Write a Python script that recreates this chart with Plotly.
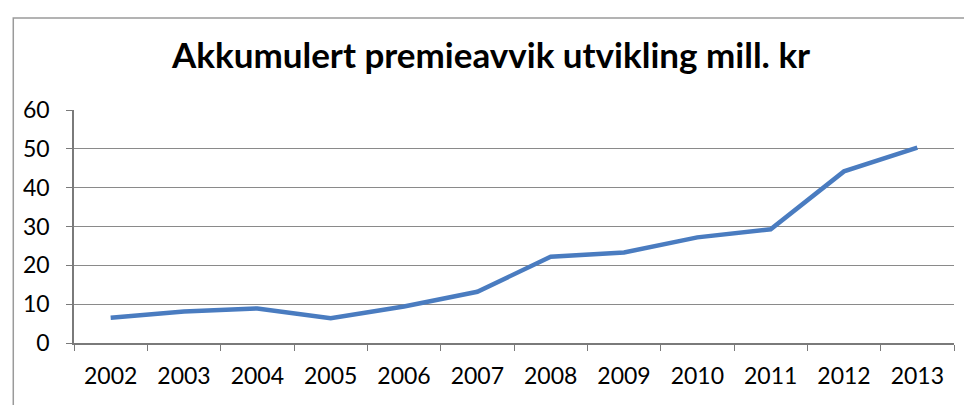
import plotly.graph_objects as go

years = ["2002", "2003", "2004", "2005", "2006", "2007", "2008", "2009", "2010", "2011", "2012", "2013"]
values = [6.5, 8.1, 8.9, 6.4, 9.4, 13.2, 22.2, 23.3, 27.2, 29.3, 44.2, 50.3]
title_text = "Akkumulert premieavvik utvikling mill. kr"

fig = go.Figure()
fig.add_trace(go.Scatter(
    x=years, y=values, mode="lines",
    line=dict(color="#4a7cc0", width=4.5),
    showlegend=False,
))

fig.update_layout(
    width=972, height=405,
    margin=dict(l=66, r=26, t=102, b=70),
    paper_bgcolor="white", plot_bgcolor="white",
    title=dict(text="<b>" + title_text + "</b>", x=0.497, xanchor="center",
               y=1 - 48 / 405, yanchor="middle",
               font=dict(family="Lato", size=35, color="black")),
    font=dict(family="Lato", color="black"),
    shapes=[dict(type="rect", xref="paper", yref="paper", x0=-0.069, x1=1.04, y0=-0.35, y1=1.395,
                 line=dict(color="#9a9a9a", width=1.5))],
)
fig.update_xaxes(
    type="category", tickson="boundaries", ticks="outside", ticklen=6,
    range=[-0.5, 11.5],
    tickcolor="#7a7a7a", showline=True, linecolor="#7a7a7a", linewidth=1.5,
    showgrid=False, tickfont=dict(size=23, family="Lato"), ticklabelstandoff=12,
)
fig.update_yaxes(
    range=[0, 60], dtick=10, ticks="outside", ticklen=6, tickcolor="#7a7a7a",
    showline=True, linecolor="#7a7a7a", linewidth=1.5,
    showgrid=True, gridcolor="#8a8a8a", gridwidth=1.2,
    zeroline=False, tickfont=dict(size=23, family="Lato"), ticklabelstandoff=12,
)

fig.write_html("out.html")
